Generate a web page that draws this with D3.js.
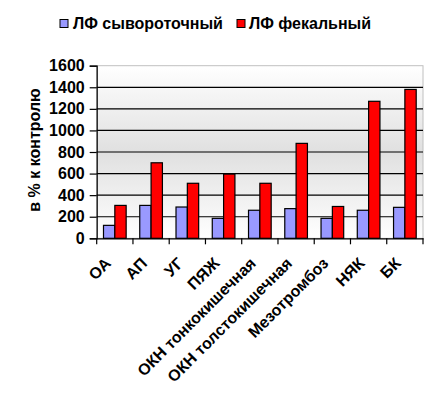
<!DOCTYPE html>
<html><head><meta charset="utf-8">
<script src="https://cdn.jsdelivr.net/npm/d3@7"></script>
<style>body{margin:0;background:#fff}svg{display:block;font-family:"Liberation Sans",Arial,sans-serif;font-weight:bold}</style>
</head><body>
<script>
const categories = ["ОА","АП","УГ","ПЯЖ","ОКН тонкокишечная","ОКН толстокишечная","Мезотромбоз","НЯК","БК"];
const seriesNames = ["ЛФ сывороточный","ЛФ фекальный"];
const serum = [120,305,290,185,260,275,185,260,287];
const fecal = [305,700,510,595,510,880,295,1270,1380];
const yTicks = [0,200,400,600,800,1000,1200,1400,1600];
const colors = ["#9999ff","#ff0000"];

const W=442,H=408,FS="16px";
const m={l:96.7,r:423,t:65.7,b:238.3};
const svg=d3.select("body").append("svg").attr("width",W).attr("height",H);
const defs=svg.append("defs");
const g=defs.append("linearGradient").attr("id","bg").attr("x1",0).attr("y1",0).attr("x2",0).attr("y2",1);
g.append("stop").attr("offset","0%").attr("stop-color","#ffffff");
g.append("stop").attr("offset","50%").attr("stop-color","#e0e0e0");
g.append("stop").attr("offset","100%").attr("stop-color","#ffffff");

const x=d3.scaleBand().domain(categories).range([m.l,m.r]).paddingInner(0).paddingOuter(0);
const y=d3.scaleLinear().domain([0,1600]).range([m.b,m.t]);
const xs=d3.scaleBand().domain([0,1]).range([0,x.bandwidth()]).paddingInner(0).paddingOuter(0.6);

svg.append("rect").attr("x",m.l).attr("y",m.t).attr("width",m.r-m.l).attr("height",m.b-m.t)
  .attr("fill","url(#bg)").attr("stroke","#c0c0c0").attr("stroke-width",1);

svg.append("g").selectAll("line").data(yTicks.filter(d=>d>0 && d<1600)).join("line")
  .attr("x1",m.l).attr("x2",m.r).attr("y1",d=>y(d)).attr("y2",d=>y(d))
  .attr("stroke","#000").attr("stroke-width",1.2);

const data=categories.map((c,i)=>({c,v:[serum[i],fecal[i]]}));
const grp=svg.append("g").selectAll("g").data(data).join("g").attr("transform",d=>`translate(${x(d.c)},0)`);
grp.selectAll("rect").data(d=>d.v.map((v,k)=>({v,k}))).join("rect")
  .attr("x",d=>xs(d.k)).attr("width",xs.bandwidth())
  .attr("y",d=>y(d.v)).attr("height",d=>y(0)-y(d.v))
  .attr("fill",d=>colors[d.k]).attr("stroke","#000").attr("stroke-width",1.2);

const ya=svg.append("g").attr("transform",`translate(${m.l},0)`)
  .call(d3.axisLeft(y).tickValues(yTicks).tickSize(7).tickPadding(5).tickFormat(d3.format("d")));
ya.select(".domain").attr("stroke","#000").attr("stroke-width",1.2);
ya.selectAll("line").attr("stroke","#000").attr("stroke-width",1.2);
ya.selectAll("text").attr("font-size",FS).attr("font-weight","bold").attr("font-family","Liberation Sans, Arial").attr("fill","#000");

const xa=svg.append("g").attr("transform",`translate(0,${m.b})`)
  .call(d3.axisBottom(x).tickSize(0).tickFormat(""));
xa.select(".domain").attr("stroke","#000").attr("stroke-width",1.2);
svg.append("g").selectAll("line").data(d3.range(categories.length+1)).join("line")
  .attr("x1",i=>m.l+i*x.step()).attr("x2",i=>m.l+i*x.step())
  .attr("y1",m.b).attr("y2",m.b+6).attr("stroke","#000").attr("stroke-width",1.2);

svg.append("g").selectAll("text").data(categories).join("text")
  .attr("transform",d=>`translate(${x(d)+x.bandwidth()/2-3},${m.b+26}) rotate(-45)`)
  .attr("text-anchor","end").attr("font-size",FS).attr("fill","#000").text(d=>d);

svg.append("text").attr("transform",`translate(40,150) rotate(-90)`).attr("text-anchor","middle")
  .attr("font-size",FS).attr("fill","#000").text("в % к контролю");

const leg=[{x:60,tx:73},{x:237,tx:249}];
seriesNames.forEach((n,i)=>{
  svg.append("rect").attr("x",leg[i].x).attr("y",19.5).attr("width",8).attr("height",8)
    .attr("fill",colors[i]).attr("stroke","#000").attr("stroke-width",1);
  svg.append("text").attr("x",leg[i].tx).attr("y",28.5).attr("font-size",FS).attr("fill","#000").text(n);
});
</script>
</body></html>
